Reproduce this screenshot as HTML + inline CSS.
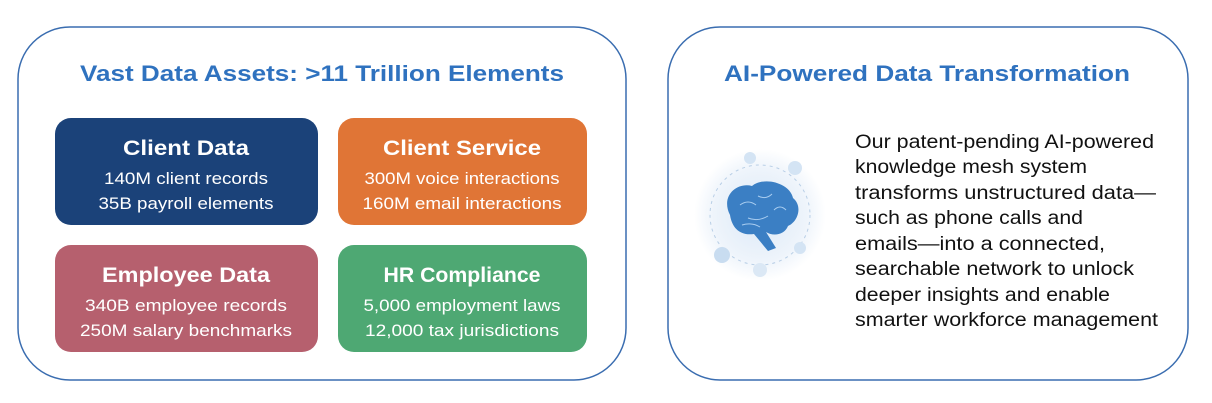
<!DOCTYPE html>
<html><head><meta charset="utf-8"><style>
html,body{margin:0;padding:0;background:#fff;width:1212px;height:403px;overflow:hidden}
svg text{font-family:"Liberation Sans",sans-serif}
</style></head><body>
<svg width="1212" height="403" viewBox="0 0 1212 403" xmlns="http://www.w3.org/2000/svg">
<defs>
<radialGradient id="halo" cx="50%" cy="50%" r="50%">
<stop offset="0" stop-color="#dbe9f7"/><stop offset="0.7" stop-color="#eef4fb"/><stop offset="1" stop-color="#fff"/>
</radialGradient>
</defs>
<rect x="18" y="27" width="608" height="353" rx="52" fill="#fff" stroke="#3a6db0" stroke-width="1.5"/>
<rect x="668" y="27" width="520" height="353" rx="52" fill="#fff" stroke="#3a6db0" stroke-width="1.5"/>
<text x="322" y="81" text-anchor="middle" font-size="22" font-weight="bold" fill="#2f72bf" textLength="484" lengthAdjust="spacingAndGlyphs">Vast Data Assets: &gt;11 Trillion Elements</text>
<text x="927" y="81" text-anchor="middle" font-size="22" font-weight="bold" fill="#2f72bf" textLength="406" lengthAdjust="spacingAndGlyphs">AI-Powered Data Transformation</text>

<rect x="55" y="118" width="263" height="107" rx="16" fill="#1b4279"/>
<rect x="338" y="118" width="249" height="107" rx="16" fill="#e07536"/>
<rect x="55" y="245" width="263" height="107" rx="16" fill="#b6606e"/>
<rect x="338" y="245" width="249" height="107" rx="16" fill="#4ea873"/>

<g fill="#fff" text-anchor="middle">
<text x="186" y="155" font-size="21" font-weight="bold" textLength="126" lengthAdjust="spacingAndGlyphs">Client Data</text>
<text x="186" y="184" font-size="16.5" textLength="164" lengthAdjust="spacingAndGlyphs">140M client records</text>
<text x="186" y="209" font-size="16.5" textLength="175" lengthAdjust="spacingAndGlyphs">35B payroll elements</text>
<text x="462" y="155" font-size="21" font-weight="bold" textLength="158" lengthAdjust="spacingAndGlyphs">Client Service</text>
<text x="462" y="184" font-size="16.5" textLength="195" lengthAdjust="spacingAndGlyphs">300M voice interactions</text>
<text x="462" y="209" font-size="16.5" textLength="199" lengthAdjust="spacingAndGlyphs">160M email interactions</text>
<text x="186" y="282" font-size="21" font-weight="bold" textLength="168" lengthAdjust="spacingAndGlyphs">Employee Data</text>
<text x="186" y="311" font-size="16.5" textLength="202" lengthAdjust="spacingAndGlyphs">340B employee records</text>
<text x="186" y="336" font-size="16.5" textLength="212" lengthAdjust="spacingAndGlyphs">250M salary benchmarks</text>
<text x="462" y="282" font-size="21" font-weight="bold" textLength="157" lengthAdjust="spacingAndGlyphs">HR Compliance</text>
<text x="462" y="311" font-size="16.5" textLength="197" lengthAdjust="spacingAndGlyphs">5,000 employment laws</text>
<text x="462" y="336" font-size="16.5" textLength="194" lengthAdjust="spacingAndGlyphs">12,000 tax jurisdictions</text>
</g>

<!-- brain illustration -->
<circle cx="760" cy="215" r="66" fill="url(#halo)"/>
<circle cx="760" cy="215" r="50" fill="none" stroke="#b9cfe6" stroke-width="1" stroke-dasharray="3 4"/>
<path d="M730 215 C720 195 738 182 752 186 C764 176 790 183 793 198 C803 206 798 222 788 226 C784 236 772 236 766 232 L776 248 L768 251 L754 234 C740 236 732 228 730 215 Z" fill="#3b7fc4"/>
<path d="M740 205 q8 -6 16 0 M758 196 q8 4 14 -2 M748 218 q10 4 20 -2 M774 210 q6 -6 12 0 M742 225 q10 -3 18 2" stroke="#a9cdf0" stroke-width="1" fill="none"/>
<circle cx="722" cy="255" r="8" fill="#c8dcf0"/><circle cx="795" cy="168" r="7" fill="#d4e4f4"/><circle cx="750" cy="158" r="6" fill="#d4e4f4"/><circle cx="800" cy="248" r="6" fill="#d4e4f4"/><circle cx="760" cy="270" r="7" fill="#dbe8f5"/>

<g font-size="19" fill="#111">
<text x="855" y="148" textLength="299" lengthAdjust="spacingAndGlyphs">Our patent-pending AI-powered</text>
<text x="855" y="173" textLength="232" lengthAdjust="spacingAndGlyphs">knowledge mesh system</text>
<text x="855" y="199" textLength="301" lengthAdjust="spacingAndGlyphs">transforms unstructured data—</text>
<text x="855" y="224" textLength="228" lengthAdjust="spacingAndGlyphs">such as phone calls and</text>
<text x="855" y="250" textLength="250" lengthAdjust="spacingAndGlyphs">emails—into a connected,</text>
<text x="855" y="275" textLength="279" lengthAdjust="spacingAndGlyphs">searchable network to unlock</text>
<text x="855" y="301" textLength="255" lengthAdjust="spacingAndGlyphs">deeper insights and enable</text>
<text x="855" y="326" textLength="303" lengthAdjust="spacingAndGlyphs">smarter workforce management</text>
</g>
</svg>
</body></html>
